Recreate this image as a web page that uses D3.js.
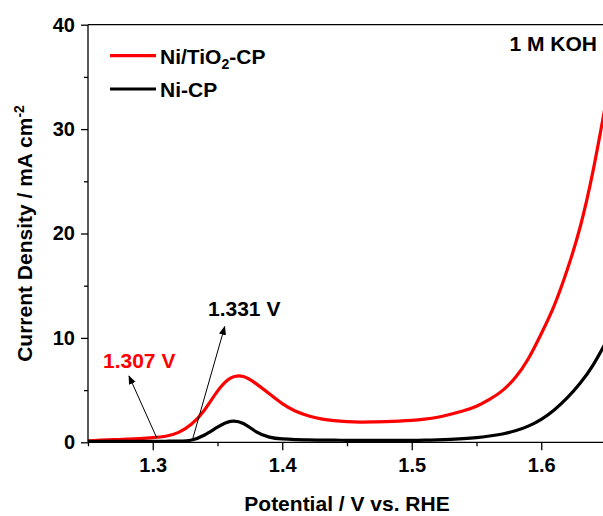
<!DOCTYPE html>
<html><head><meta charset="utf-8">
<script src="https://cdn.jsdelivr.net/npm/d3@7"></script>
<style>body{margin:0;background:#fff}svg{display:block}text{font-family:"Liberation Sans",Arial,sans-serif;font-weight:bold}</style>
</head><body><svg id="c" width="603" height="516"></svg>
<script>
const potential = [1.25,1.26,1.27,1.28,1.29,1.30,1.31,1.32,1.33,1.34,1.35,1.36,1.37,1.38,1.39,1.40,1.41,1.42,1.43,1.44,1.45,1.46,1.47,1.48,1.49,1.50,1.51,1.52,1.53,1.54,1.55,1.56,1.57,1.58,1.59,1.60,1.61,1.62,1.63,1.64,1.65];
const niTiO2CP = [0.15,0.2,0.25,0.3,0.36,0.44,0.58,0.95,1.75,3.1,4.9,6.15,6.3,5.6,4.65,3.7,3.0,2.55,2.25,2.07,1.98,1.94,1.95,1.98,2.03,2.1,2.22,2.4,2.68,3.02,3.45,4.1,4.95,6.2,8.0,10.4,13.1,16.5,20.6,26.0,32.6];
const niCP = [0.08,0.08,0.09,0.09,0.1,0.1,0.1,0.12,0.22,0.7,1.45,2.0,1.8,1.0,0.5,0.32,0.26,0.23,0.21,0.2,0.19,0.18,0.18,0.18,0.18,0.19,0.2,0.23,0.28,0.35,0.45,0.6,0.8,1.1,1.55,2.2,3.1,4.25,5.65,7.4,9.6];
const xTicks = [1.3,1.4,1.5,1.6];
const xMinor = [1.25,1.35,1.45,1.55,1.65];
const yTicks = [0,10,20,30,40];
const yMinor = [5,15,25,35];
const seriesNames = ["Ni/TiO2-CP","Ni-CP"];
const colors = ["#ff0000","#000000"];

const svg = d3.select("#c");
const L=88, R=606, T=24.7, B=442.3;
const x = d3.scaleLinear().domain([1.25,1.65]).range([L,R]);
const y = d3.scaleLinear().domain([0,40]).range([B,T]);

const defs = svg.append("defs");
defs.append("clipPath").attr("id","clip").append("rect")
  .attr("x",L).attr("y",T).attr("width",R-L).attr("height",B-T);
const mk = defs.append("marker").attr("id","arr")
  .attr("viewBox","0 0 10 10").attr("refX",9).attr("refY",5)
  .attr("markerWidth",9).attr("markerHeight",9).attr("markerUnits","userSpaceOnUse")
  .attr("orient","auto");
mk.append("path").attr("d","M0,1 L10,5 L0,9 Z").attr("fill","#000");

const line = d3.line().x(d=>x(d[0])).y(d=>y(d[1])).curve(d3.curveNatural);
const series = [d3.zip(potential,niTiO2CP), d3.zip(potential,niCP)];
const g = svg.append("g").attr("clip-path","url(#clip)");
g.append("path").datum(series[0]).attr("d",line).attr("fill","none").attr("stroke",colors[0]).attr("stroke-width",3.2);
g.append("path").datum(series[1]).attr("d",line).attr("fill","none").attr("stroke",colors[1]).attr("stroke-width",3.2);

svg.append("line").attr("x1",L).attr("x2",R).attr("y1",T).attr("y2",T).attr("stroke","#000").attr("stroke-width",1.3);

const fmtX = d3.format(".1f");
const xa = svg.append("g").attr("transform",`translate(0,${B})`)
  .call(d3.axisBottom(x).tickValues(xTicks).tickSize(8).tickPadding(8).tickFormat(fmtX));
const xm = svg.append("g").attr("transform",`translate(0,${B})`)
  .call(d3.axisBottom(x).tickValues(xMinor).tickSize(4).tickFormat(""));
const ya = svg.append("g").attr("transform",`translate(${L},0)`)
  .call(d3.axisLeft(y).tickValues(yTicks).tickSize(7).tickPadding(6));
const ym = svg.append("g").attr("transform",`translate(${L},0)`)
  .call(d3.axisLeft(y).tickValues(yMinor).tickSize(4).tickFormat(""));
[xa,xm,ya,ym].forEach(a=>{a.selectAll("line").attr("stroke","#000").attr("stroke-width",1.3); a.select(".domain").remove();});
svg.append("line").attr("x1",L).attr("x2",R).attr("y1",B).attr("y2",B).attr("stroke","#000").attr("stroke-width",1.3);
svg.append("line").attr("x1",L).attr("x2",L).attr("y1",T).attr("y2",B).attr("stroke","#000").attr("stroke-width",1.3);
svg.selectAll(".tick text").attr("font-size",20).attr("font-family","Liberation Sans, Arial, sans-serif").attr("font-weight","bold").attr("fill","#000");

svg.append("text").attr("x",(L+R)/2).attr("y",511).attr("text-anchor","middle").attr("font-size",21).text("Potential / V vs. RHE");
const yt = svg.append("text").attr("transform",`translate(32,${(T+B)/2}) rotate(-90)`).attr("text-anchor","middle").attr("font-size",21);
yt.append("tspan").text("Current Density / mA cm");
yt.append("tspan").attr("dy",-8).attr("font-size",14).text("-2");

const legY=[55.7,89];
svg.append("line").attr("x1",110).attr("x2",156).attr("y1",legY[0]).attr("y2",legY[0]).attr("stroke",colors[0]).attr("stroke-width",3.2);
svg.append("line").attr("x1",110).attr("x2",156).attr("y1",legY[1]).attr("y2",legY[1]).attr("stroke",colors[1]).attr("stroke-width",3.2);
const l1 = svg.append("text").attr("x",160).attr("y",63.5).attr("font-size",21);
l1.append("tspan").text("Ni/TiO");
l1.append("tspan").attr("dy",5).attr("font-size",14).text("2");
l1.append("tspan").attr("dy",-5).text("-CP");
svg.append("text").attr("x",160).attr("y",97).attr("font-size",21).text(seriesNames[1]);

svg.append("text").attr("x",597).attr("y",51).attr("text-anchor","end").attr("font-size",21).text("1 M KOH");

svg.append("text").attr("x",103).attr("y",367.5).attr("font-size",21).attr("fill","#ff0000").text("1.307 V");
svg.append("text").attr("x",208).attr("y",316).attr("font-size",21).attr("fill","#000").text("1.331 V");
svg.append("line").attr("x1",x(1.303)).attr("y1",y(0.45)).attr("x2",129).attr("y2",376)
  .attr("stroke","#000").attr("stroke-width",1).attr("marker-end","url(#arr)");
svg.append("line").attr("x1",x(1.331)).attr("y1",y(0.4)).attr("x2",224.7).attr("y2",326.7)
  .attr("stroke","#000").attr("stroke-width",1).attr("marker-end","url(#arr)");
</script></body></html>
